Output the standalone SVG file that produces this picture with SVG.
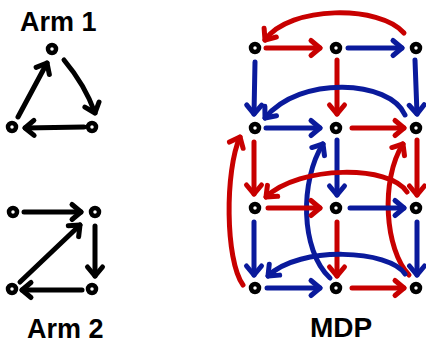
<svg xmlns="http://www.w3.org/2000/svg" width="426" height="344" viewBox="0 0 426 344">
<style>
.e{fill:none;stroke-width:5;stroke-linecap:round;stroke-linejoin:round}
.k{stroke:#000;marker-end:url(#ak)}
.r{stroke:#c80000;marker-end:url(#ar)}
.b{stroke:#0a1a9c;marker-end:url(#ab)}
.n{fill:#fff;stroke:#000;stroke-width:4.5}
.t{font-family:"Liberation Sans",Arial,sans-serif;font-weight:bold;fill:#000}
</style>
<defs>
<marker id="ak" markerUnits="userSpaceOnUse" markerWidth="24" markerHeight="24" viewBox="-12 -12 24 24" refX="0" refY="0" orient="auto" overflow="visible"><path d="M-9,-7.5 L0,0 L-9,7.5" fill="none" stroke="#000" stroke-width="5" stroke-linecap="round" stroke-linejoin="round"/></marker>
<marker id="ar" markerUnits="userSpaceOnUse" markerWidth="24" markerHeight="24" viewBox="-12 -12 24 24" refX="0" refY="0" orient="auto" overflow="visible"><path d="M-9,-7.5 L0,0 L-9,7.5" fill="none" stroke="#c80000" stroke-width="5" stroke-linecap="round" stroke-linejoin="round"/></marker>
<marker id="ab" markerUnits="userSpaceOnUse" markerWidth="24" markerHeight="24" viewBox="-12 -12 24 24" refX="0" refY="0" orient="auto" overflow="visible"><path d="M-9,-7.5 L0,0 L-9,7.5" fill="none" stroke="#0a1a9c" stroke-width="5" stroke-linecap="round" stroke-linejoin="round"/></marker>
</defs>
<rect width="426" height="344" fill="#fff"/>
<text class="t" x="20" y="31" font-size="27">Arm 1</text>
<text class="t" x="27" y="338" font-size="27">Arm 2</text>
<text class="t" x="310" y="337" font-size="28">MDP</text>
<g id="connectors">
<path class="e k" d="M18,117 L47,63"/>
<path class="e k" d="M64,60 Q85,85 95,113"/>
<path class="e k" d="M84,127 L25,128"/>
<path class="e k" d="M24,212 L81,212"/>
<path class="e k" d="M95,226 L95,276"/>
<path class="e k" d="M82,290 L22,290"/>
<path class="e k" d="M20,282 L80,225"/>
<path class="e r" d="M266,48 L320,48"/>
<path class="e b" d="M348,48 L402,48"/>
<path class="e r" d="M404,33 C380,5 290,5 265,40"/>
<path class="e b" d="M255,62 L254,114"/>
<path class="e r" d="M337,60 L337,114"/>
<path class="e b" d="M415,60 L417,114"/>
<path class="e b" d="M405,115 C390,80 300,75 265,118"/>
<path class="e b" d="M266,128 L320,128"/>
<path class="e r" d="M352,128 L404,128"/>
<path class="e r" d="M254,142 L254,194"/>
<path class="e b" d="M337,140 L337,195"/>
<path class="e r" d="M417,140 L417,195"/>
<path class="e r" d="M243,285 C225,260 225,170 240,137"/>
<path class="e b" d="M330,278 C300,250 300,180 323,144"/>
<path class="e r" d="M409,275 C385,250 380,180 403,144"/>
<path class="e r" d="M407,192 C390,165 300,165 266,197"/>
<path class="e r" d="M268,208 L320,208"/>
<path class="e b" d="M350,208 L404,208"/>
<path class="e b" d="M254,222 L254,275"/>
<path class="e r" d="M337,222 L337,276"/>
<path class="e b" d="M417,222 L417,275"/>
<path class="e b" d="M405,274 C390,250 300,245 268,276"/>
<path class="e b" d="M267,288 L320,288"/>
<path class="e r" d="M352,288 L404,288"/>
</g>
<g id="a1n1"><circle class="n" cx="52" cy="49" r="4"/></g>
<g id="a1n2"><circle class="n" cx="12" cy="127" r="4"/></g>
<g id="a1n3"><circle class="n" cx="92" cy="127" r="4"/></g>
<g id="a2n1"><circle class="n" cx="13" cy="212" r="4"/></g>
<g id="a2n2"><circle class="n" cx="95" cy="212" r="4"/></g>
<g id="a2n3"><circle class="n" cx="12" cy="289" r="4"/></g>
<g id="a2n4"><circle class="n" cx="92" cy="289" r="4"/></g>
<g id="m11"><circle class="n" cx="255" cy="48" r="4"/></g>
<g id="m12"><circle class="n" cx="336" cy="48" r="4"/></g>
<g id="m13"><circle class="n" cx="416" cy="48" r="4"/></g>
<g id="m21"><circle class="n" cx="255" cy="128" r="4"/></g>
<g id="m22"><circle class="n" cx="336" cy="128" r="4"/></g>
<g id="m23"><circle class="n" cx="416" cy="128" r="4"/></g>
<g id="m31"><circle class="n" cx="255" cy="208" r="4"/></g>
<g id="m32"><circle class="n" cx="336" cy="208" r="4"/></g>
<g id="m33"><circle class="n" cx="416" cy="208" r="4"/></g>
<g id="m41"><circle class="n" cx="255" cy="288" r="4"/></g>
<g id="m42"><circle class="n" cx="336" cy="288" r="4"/></g>
<g id="m43"><circle class="n" cx="416" cy="288" r="4"/></g>
</svg>
